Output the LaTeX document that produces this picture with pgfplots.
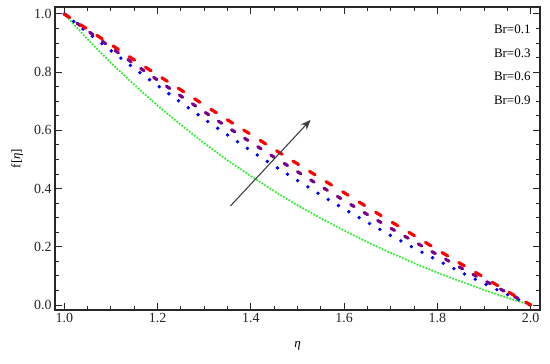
\documentclass[border=0pt]{standalone}
\usepackage{pgfplots}
\pgfplotsset{compat=1.18}
\usetikzlibrary{arrows.meta}
\usepackage{fontspec}
\setmainfont{Liberation Serif}
\definecolor{cred}{RGB}{255,0,0}
\definecolor{cpur}{RGB}{120,0,140}
\definecolor{cblue}{RGB}{0,0,255}
\definecolor{cgreen}{RGB}{50,235,50}
\definecolor{caxis}{RGB}{40,40,40}
\begin{document}
\begin{tikzpicture}
\begin{axis}[
  at={(0,0)}, anchor=south west,
  scale only axis, width=485bp, height=303bp,
  xmin=0.98, xmax=2.02, ymin=-0.017, ymax=1.024,
  xtick={1.0,1.2,1.4,1.6,1.8,2.0},
  ytick={0.0,0.2,0.4,0.6,0.8,1.0},
  minor x tick num=3, minor y tick num=3,
  xticklabel style={/pgf/number format/.cd,fixed,fixed zerofill,precision=1},
  yticklabel style={/pgf/number format/.cd,fixed,fixed zerofill,precision=1},
  /pgf/number format/assume math mode=true,
  tick align=inside,
  major tick length=7bp, minor tick length=4bp,
  every tick/.style={caxis, line width=1pt},
  axis line style={caxis, line width=1.5pt},
  ticklabel style={font=\fontsize{14}{16}\selectfont, text=black!85},
  xlabel={\textit{η}}, ylabel={f[\textit{η}]},
  label style={font=\fontsize{13}{15}\selectfont},
  xlabel style={yshift=-12bp},
  ylabel style={yshift=4bp},
  clip=false,
]
% Br = 0.1 (green)
\addplot[cgreen, line width=2.5pt, dash pattern=on 0pt off 3.2pt, line cap=round] coordinates {
(1.00,1.000) (1.05,0.913) (1.10,0.832) (1.15,0.757) (1.20,0.685) (1.25,0.619)
(1.30,0.556) (1.35,0.497) (1.40,0.443) (1.45,0.391) (1.50,0.343) (1.55,0.298)
(1.60,0.256) (1.65,0.216) (1.70,0.179) (1.75,0.144) (1.80,0.111) (1.85,0.081)
(1.90,0.052) (1.95,0.025) (2.00,0.000)};
% Br = 0.3 (blue)
\addplot[cblue, line width=3.8pt, dash pattern=on 0pt off 12pt, line cap=round] coordinates {
(1.00,1.000) (1.05,0.936) (1.10,0.874) (1.15,0.813) (1.20,0.754) (1.25,0.696)
(1.30,0.639) (1.35,0.584) (1.40,0.530) (1.45,0.478) (1.50,0.428) (1.55,0.378)
(1.60,0.330) (1.65,0.284) (1.70,0.239) (1.75,0.196) (1.80,0.154) (1.85,0.113)
(1.90,0.074) (1.95,0.036) (2.00,0.000)};
% Br = 0.6 (purple)
\addplot[cpur, line width=3.2pt, dash pattern=on 4pt off 11.7pt, line cap=round] coordinates {
(1.00,1.000) (1.05,0.942) (1.10,0.885) (1.15,0.828) (1.20,0.773) (1.25,0.718)
(1.30,0.664) (1.35,0.611) (1.40,0.559) (1.45,0.508) (1.50,0.458) (1.55,0.408)
(1.60,0.359) (1.65,0.311) (1.70,0.264) (1.75,0.218) (1.80,0.173) (1.85,0.128)
(1.90,0.085) (1.95,0.042) (2.00,0.000)};
% Br = 0.9 (red)
\addplot[cred, line width=3.2pt, dash pattern=on 6.5pt off 13pt, line cap=round] coordinates {
(1.00,1.000) (1.05,0.947) (1.10,0.895) (1.15,0.842) (1.20,0.790) (1.25,0.739)
(1.30,0.687) (1.35,0.636) (1.40,0.586) (1.45,0.535) (1.50,0.485) (1.55,0.435)
(1.60,0.386) (1.65,0.336) (1.70,0.287) (1.75,0.239) (1.80,0.190) (1.85,0.142)
(1.90,0.095) (1.95,0.047) (2.00,0.000)};
\draw[black!75, line width=1.1pt, -{Stealth[length=10bp,width=8bp]}] (axis cs:1.356,0.34) -- (axis cs:1.528,0.636);
\node[anchor=north east, align=right, font=\fontsize{13}{23.5}\selectfont, inner sep=0pt] at (axis cs:2.0,0.962) {Br=0.1\\Br=0.3\\Br=0.6\\Br=0.9};
\end{axis}
\path[use as bounding box] (-55bp,-54bp) rectangle (495bp,310bp);
\end{tikzpicture}
\end{document}
